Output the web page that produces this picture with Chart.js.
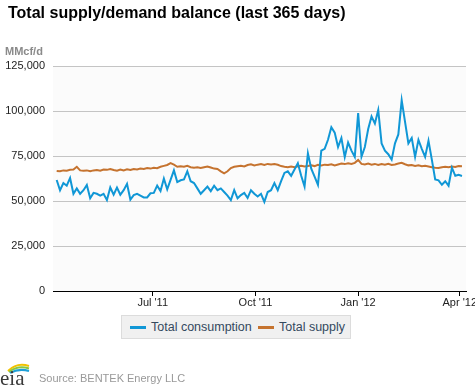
<!DOCTYPE html>
<html>
<head>
<meta charset="utf-8">
<script src="https://cdn.jsdelivr.net/npm/chart.js@4"></script>
<style>
  body { margin: 0; background: #fff; font-family: "Liberation Sans", Arial, sans-serif; }
  #wrap { position: relative; width: 475px; height: 387px; overflow: hidden; }
  #chart { position: absolute; left: 0; top: 0; }
  .title { position: absolute; left: 8px; top: 4px; font-size: 16px; line-height: 17px; font-weight: bold; color: #000; white-space: nowrap; }
  .unit { position: absolute; left: 5px; top: 46px; font-size: 11px; line-height: 11px; font-weight: bold; color: #8a8a8a; }
  .legend { position: absolute; left: 121px; top: 315px; width: 228px; height: 22px; background: #f0f0f0; border: 1px solid #dcdcdc;
            font-size: 12.5px; color: #34495e; white-space: nowrap; }
  .legend .item { position: absolute; top: 0; height: 22px; display: flex; align-items: center; }
  .legend .sw { display: inline-block; width: 16px; height: 3px; margin-right: 5px; }
  .source { position: absolute; left: 39px; top: 372px; font-size: 11px; line-height: 12px; color: #999; }
  .logo { position: absolute; left: 0; top: 362px; }
</style>
</head>
<body>
<div id="wrap">
  <canvas id="chart" width="475" height="387"></canvas>
  <div class="title">Total supply/demand balance (last 365 days)</div>
  <div class="unit">MMcf/d</div>
  <div class="legend" id="legend"></div>
  <svg class="logo" width="32" height="25" viewBox="0 0 32 25">
    <path d="M8 9 Q17 0 29 4" stroke="#f2c200" stroke-width="2" fill="none"/>
    <path d="M9 10 Q18 3 29 6.5" stroke="#8cc63f" stroke-width="2" fill="none"/>
    <path d="M10 11 Q19 6 29 9" stroke="#1ea0d8" stroke-width="2" fill="none"/>
    <text x="0" y="23" font-family="Liberation Serif, DejaVu Serif, serif" font-size="21" fill="#3a3a3a">eia</text>
  </svg>
  <div class="source">Source: BENTEK Energy LLC</div>
</div>
<script>
// ==============================
// DATA (MMcf/d, thousands; one sample every 3 days from Apr 6 '11)
// ==============================
const sampleStepDays = 3;

const consumption = [
  61.7, 56, 60, 58.5, 62.8, 54, 57, 54, 56, 58.9,
  51.5, 54.5, 54, 53, 54, 50.5, 57.5, 53.5, 57.5, 53.5,
  56, 59.5, 50.8, 53.3, 54, 53, 52, 52, 54.3, 54.5,
  58.5, 55.5, 62.5, 56.5, 61.7, 67, 60.5, 61.5, 62, 66.5,
  61, 60, 57, 54, 56, 58, 55.5, 58.5, 56, 57,
  55, 53, 50.5, 56, 51.5, 53.3, 54.5, 51.7, 56, 54,
  52.5, 54, 49.5, 55, 56, 60, 56, 61, 65.6, 66.5,
  64, 67.5, 71, 64, 58, 76.5, 68, 63.5, 59, 78,
  79, 84, 91, 88, 80, 85, 74.5, 82.5, 78, 74.5,
  98.9, 74.6, 80, 90, 97, 93, 100.5, 82, 78, 76,
  73, 82, 87, 106, 94, 82, 85, 74.5, 84, 79,
  74.5, 83.5, 73, 62, 61.5, 59, 61, 58.5, 68.5, 64,
  64.5, 63.9
];

const supply = [
  66.7, 66.5, 67, 66.8, 67.3, 67.5, 69, 67, 66.8, 67,
  66.5, 67, 67.2, 66.8, 67.5, 67.3, 67.8, 67.2, 66.8, 67.5,
  67, 67.6, 67.2, 67.8, 67.5, 68, 67.8, 68.3, 68, 68.5,
  68.2, 69, 69.5, 70, 71, 70.2, 69, 69.3, 69, 69.5,
  68.8, 68.5, 68.7, 68.3, 68.8, 69.2, 68.6, 68, 67.8, 66.5,
  65.4, 66.5, 68.3, 69, 69.3, 69.6, 69.2, 70, 70.4, 69.8,
  70.2, 70.5, 70, 70.6, 70.3, 70.5, 70.1, 69.4, 69, 68.7,
  69.2, 68.8, 69.3, 69.6, 69.2, 69.5, 69.9, 69.4, 70.1, 69.7,
  70.2, 70, 70.4, 69.8, 70.3, 70.8, 70.5, 71, 70.6, 71.2,
  72.8, 70.6, 70.3, 70.8, 70.2, 70.6, 70, 70.5, 70.2, 70.7,
  70, 70.3, 70.8, 71.2, 70.4, 69.8, 70, 69.5, 69.8, 69.3,
  69.6, 69.2, 68.8, 68.5, 68.3, 68.8, 69, 68.7, 69.2, 68.9,
  69.4, 69.3
];

// x ticks: day number since Apr 6 '11
const tickDays = [86, 178, 270, 361];
const tickLabels = ["Jul '11", "Oct '11", "Jan '12", "Apr '12"];

const yTicks = [0, 25000, 50000, 75000, 100000, 125000];

const seriesNames = ['Total consumption', 'Total supply'];
const seriesColors = ['#1097d6', '#c5732f'];

// ==============================
// HELPERS
// ==============================
function toPoints(values) {
    return values.map((v, i) => ({ x: i * sampleStepDays, y: v * 1000 }));
}

const tickFont = { family: '"Liberation Sans", Arial, sans-serif', size: 11 };

// faint plot background
const plotBackground = {
    id: 'plotBackground',
    beforeDraw(chart) {
        const { ctx, chartArea: a } = chart;
        ctx.save();
        ctx.fillStyle = '#fbfbfb';
        ctx.fillRect(a.left, a.top, a.right - a.left, a.bottom - a.top);
        ctx.restore();
    }
};

// ==============================
// LEGEND
// ==============================
const legendEl = document.getElementById('legend');
const legendLeft = [8, 136];
seriesNames.forEach((name, i) => {
    const item = document.createElement('span');
    item.className = 'item';
    item.style.left = legendLeft[i] + 'px';
    item.innerHTML = `<span class="sw" style="background:${seriesColors[i]}"></span>${name}`;
    legendEl.appendChild(item);
});

// ==============================
// CHART
// ==============================
const ctx = document.getElementById('chart').getContext('2d');

new Chart(ctx, {
    type: 'line',
    data: {
        datasets: [
            {
                label: seriesNames[0],
                data: toPoints(consumption),
                borderColor: seriesColors[0],
                borderWidth: 2,
                pointRadius: 0,
                tension: 0
            },
            {
                label: seriesNames[1],
                data: toPoints(supply),
                borderColor: seriesColors[1],
                borderWidth: 2,
                pointRadius: 0,
                tension: 0
            }
        ]
    },
    options: {
        responsive: false,
        animation: false,
        layout: {
            padding: { top: 66, right: 9, bottom: 76, left: 0 }
        },
        plugins: {
            legend: { display: false },
            tooltip: { enabled: false }
        },
        scales: {
            x: {
                type: 'linear',
                min: -3.3,
                max: 366.6,
                afterBuildTicks: scale => {
                    scale.ticks = tickDays.map(v => ({ value: v }));
                },
                afterFit: scale => {
                    scale.height = 20;
                    scale.paddingLeft = 0;
                    scale.paddingRight = 0;
                },
                grid: {
                    drawOnChartArea: false,
                    drawTicks: true,
                    tickLength: 5,
                    color: '#000'
                },
                border: { color: '#000', width: 1 },
                ticks: {
                    autoSkip: false,
                    maxRotation: 0,
                    padding: 0,
                    color: '#222',
                    font: tickFont,
                    callback: v => tickLabels[tickDays.indexOf(v)]
                }
            },
            y: {
                min: 0,
                max: 125000,
                afterBuildTicks: scale => {
                    scale.ticks = yTicks.map(v => ({ value: v }));
                },
                afterFit: scale => {
                    scale.width = 53;
                    scale.paddingTop = 0;
                    scale.paddingBottom = 0;
                },
                grid: {
                    color: '#c4c4c4',
                    drawTicks: false
                },
                border: { display: false },
                ticks: {
                    padding: 8,
                    color: '#222',
                    font: tickFont,
                    callback: v => v.toLocaleString('en-US')
                }
            }
        }
    },
    plugins: [plotBackground]
});
</script>
</body>
</html>
